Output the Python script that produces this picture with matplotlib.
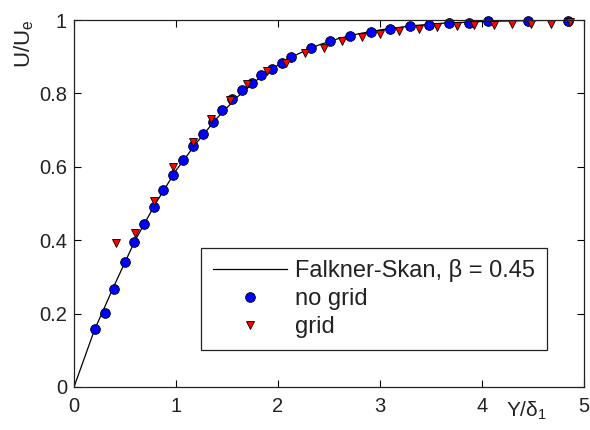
import matplotlib.pyplot as plt

plt.rcParams['font.family'] = ['Liberation Sans', 'DejaVu Sans']
plt.rcParams['mathtext.fontset'] = 'custom'
plt.rcParams['mathtext.rm'] = 'Liberation Sans'
plt.rcParams['mathtext.it'] = 'Liberation Sans:italic'

# Falkner-Skan profile
fs_x = [0, 0.2, 0.4, 0.6, 0.8, 1.0, 1.2, 1.4, 1.6, 1.8, 2.0, 2.2, 2.4, 2.6,
        2.8, 3.0, 3.3, 3.6, 4.0, 4.4, 4.9]
fs_y = [0, 0.155, 0.28, 0.40, 0.50, 0.59, 0.665, 0.732, 0.79, 0.838, 0.877,
        0.908, 0.932, 0.95, 0.963, 0.973, 0.984, 0.991, 0.996, 0.998, 1.0]

# no grid
ng_x = [0.206, 0.307, 0.392, 0.503, 0.588, 0.69, 0.78, 0.875, 0.97, 1.065,
        1.17, 1.265, 1.366, 1.45, 1.55, 1.644, 1.748, 1.835, 1.94, 2.04,
        2.13, 2.32, 2.51, 2.71, 2.91, 3.10, 3.29, 3.48, 3.68, 3.87, 4.06,
        4.45, 4.84]
ng_y = [0.158, 0.202, 0.268, 0.341, 0.395, 0.444, 0.491, 0.537, 0.578, 0.619,
        0.657, 0.689, 0.721, 0.755, 0.786, 0.808, 0.829, 0.850, 0.866, 0.883,
        0.900, 0.925, 0.944, 0.956, 0.968, 0.975, 0.984, 0.986, 0.993, 0.993,
        0.997, 0.997, 0.997]

# grid
g_x = [0.409, 0.598, 0.78, 0.97, 1.163, 1.343, 1.53, 1.70, 1.89, 2.08, 2.26,
       2.45, 2.63, 2.82, 3.0, 3.19, 3.38, 3.56, 3.75, 3.92, 4.12, 4.29, 4.48,
       4.68, 4.86]
g_y = [0.392, 0.419, 0.508, 0.600, 0.668, 0.730, 0.782, 0.826, 0.861, 0.884,
       0.909, 0.925, 0.944, 0.955, 0.962, 0.971, 0.975, 0.980, 0.983, 0.986,
       0.986, 0.990, 0.990, 0.990, 0.995]

txt = '#222222'

fig = plt.figure(figsize=(5.9, 4.3), dpi=100)
ax = fig.add_axes([74/590, 43/430, 510/590, 367/430])

ax.plot(fs_x, fs_y, color='black', lw=0.9, label='Falkner-Skan, β = 0.45')
ax.plot(ng_x, ng_y, 'o', color='blue', mec='black', mew=0.6, ms=7,
        label='no grid', clip_on=False)
ax.plot(g_x, g_y, 'v', color='red', mec='black', mew=0.6, ms=6,
        label='grid', clip_on=False)

ax.set_xlim(0, 5)
ax.set_ylim(0, 1)
ax.set_xticks([0, 1, 2, 3, 4, 5])
ax.set_yticks([0, 0.2, 0.4, 0.6, 0.8, 1])
ax.set_yticklabels(['0', '0.2', '0.4', '0.6', '0.8', '1'])
ax.tick_params(direction='in', length=5, width=0.8, top=True, right=True,
               labelsize=14.5, labelcolor=txt)
ax.tick_params(axis='x', pad=7)
ax.tick_params(axis='y', pad=5)
for s in ax.spines.values():
    s.set_linewidth(0.9)
    s.set_color('#222222')

ax.text(0.888, -0.035, r'Y/$\mathrm{\delta}_1$', transform=ax.transAxes,
        ha='center', va='top', fontsize=15, color=txt)
ax.text(-0.098, 1.0, r'U/U$_\mathrm{e}$', transform=ax.transAxes,
        rotation=90, ha='center', va='top', fontsize=16, color=txt)

leg = ax.legend(loc='lower right', bbox_to_anchor=(0.927, 0.101),
                fontsize=17, handlelength=3.15, handletextpad=0.34,
                labelspacing=0.25, borderpad=0.5, fancybox=False,
                framealpha=1, borderaxespad=0)
leg.get_frame().set_edgecolor('#222222')
leg.get_frame().set_linewidth(0.9)
for t in leg.get_texts():
    t.set_color(txt)

fig.savefig('out.png', dpi=100)
